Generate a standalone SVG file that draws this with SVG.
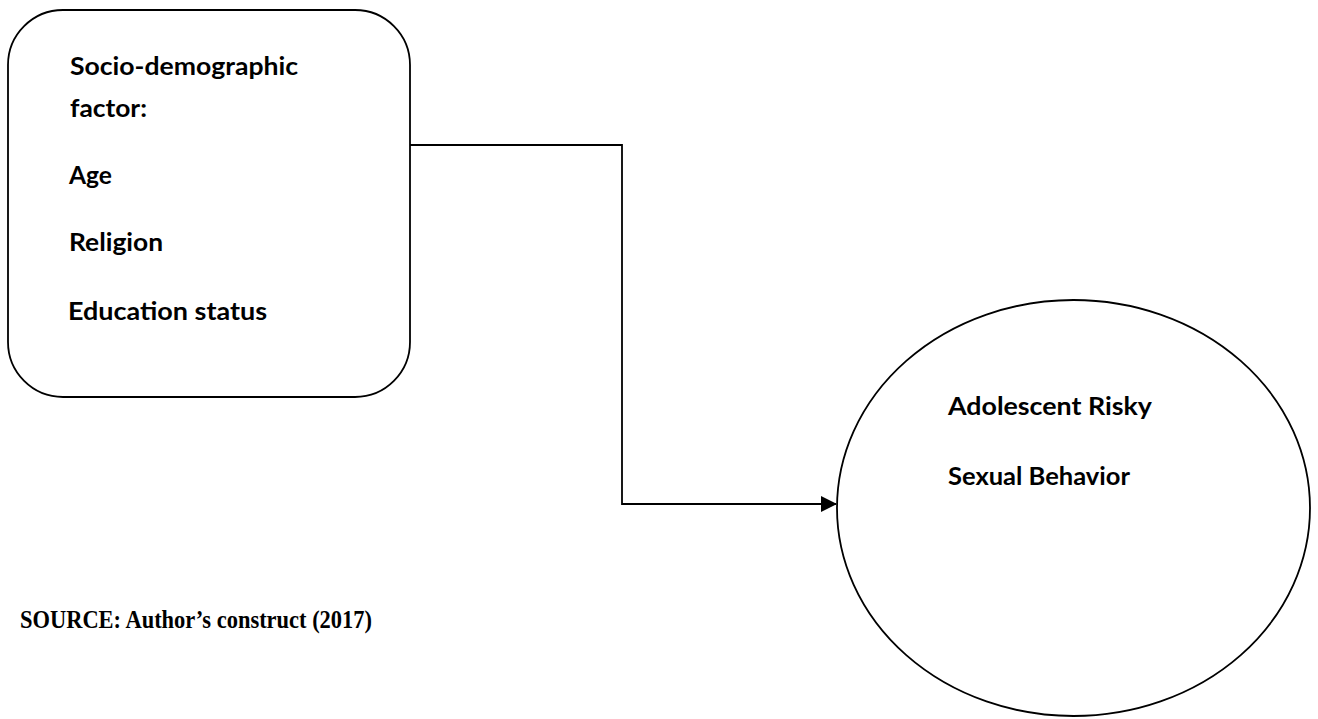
<svg xmlns="http://www.w3.org/2000/svg" width="1318" height="719" viewBox="0 0 1318 719">
<style>
.shape{fill:#fff;stroke:#000;stroke-width:1.8}
.lbl{font-family:Lato,"Open Sans","Liberation Sans",sans-serif;font-weight:bold;font-size:25px;fill:#000}
.src{font-family:"Liberation Serif","Times New Roman",serif;font-weight:bold;font-size:25px;fill:#000}
.conn{fill:none;stroke:#000;stroke-width:1.8}
</style>
<defs>
<marker id="arr" markerWidth="16" markerHeight="16" refX="15" refY="8" orient="auto" markerUnits="userSpaceOnUse">
<path d="M0,0 L16,8 L0,16 Z" fill="#000"/>
</marker>
</defs>
<rect width="1318" height="719" fill="#fff"/>
<g id="connectors">
<path class="conn" d="M410,145 H622 V504 H836" marker-end="url(#arr)"/>
</g>
<g id="node-socio">
<rect class="shape" x="8" y="10" width="402" height="387" rx="55" ry="55"/>
<text class="lbl" x="70" y="75" textLength="228" lengthAdjust="spacingAndGlyphs">Socio-demographic</text>
<text class="lbl" x="70" y="117" textLength="77" lengthAdjust="spacingAndGlyphs">factor:</text>
<text class="lbl" x="69" y="184" textLength="43" lengthAdjust="spacingAndGlyphs">Age</text>
<text class="lbl" x="69" y="251" textLength="94" lengthAdjust="spacingAndGlyphs">Religion</text>
<text class="lbl" x="68" y="320" textLength="199" lengthAdjust="spacingAndGlyphs">Education status</text>
</g>
<g id="node-outcome">
<ellipse class="shape" cx="1073.5" cy="508" rx="236.5" ry="208"/>
<text class="lbl" x="948" y="415" textLength="204" lengthAdjust="spacingAndGlyphs">Adolescent Risky</text>
<text class="lbl" x="948" y="485" textLength="182" lengthAdjust="spacingAndGlyphs">Sexual Behavior</text>
</g>
<g id="source">
<text class="src" x="20" y="628" textLength="352" lengthAdjust="spacingAndGlyphs">SOURCE: Author’s construct (2017)</text>
</g>
</svg>
